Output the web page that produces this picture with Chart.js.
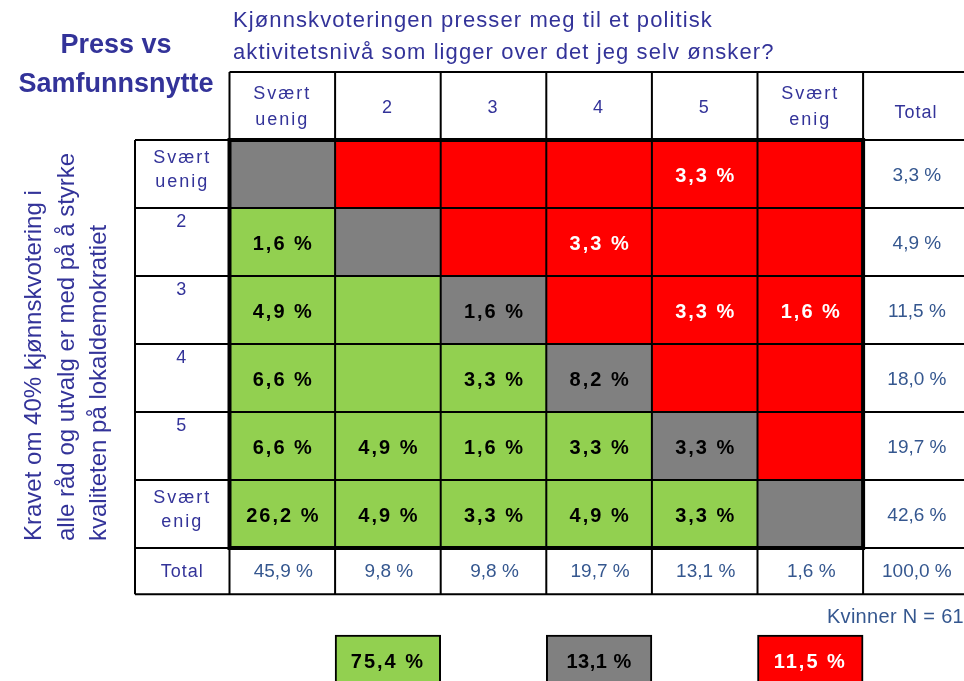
<!DOCTYPE html>
<html>
<head>
<meta charset="utf-8">
<script src="https://cdn.jsdelivr.net/npm/chart.js@4.4.1/dist/chart.umd.min.js"></script>
<style>
  html, body { margin: 0; padding: 0; background: #fff; overflow: hidden; }
  body { width: 964px; height: 681px; position: relative; font-family: "Liberation Sans", Arial, sans-serif; }
  #wrap { position: absolute; left: 0; top: 0; width: 972px; height: 681px; }
  .txt { position: absolute; white-space: nowrap; }
  #q { left: 233px; top: 4px; font-size: 22px; letter-spacing: 1.1px; line-height: 32px; color: #333399; }
  #ttl { left: 0; width: 232px; top: 25px; text-align: center; font-weight: bold; font-size: 27px; line-height: 39px; color: #333399; }
  #ytl { left: 17px; top: 541px; transform-origin: 0 0; transform: rotate(-90deg); text-align: left;
         font-size: 24px; line-height: 32.5px; color: #333399; }
  #note { right: 0px; top: 605px; font-size: 20px; letter-spacing: 0.3px; color: #35578f; }
</style>
</head>
<body>
<div id="wrap"><canvas id="c" width="972" height="681"></canvas></div>
<div class="txt" id="q">Kjønnskvoteringen presser meg til et politisk<br>aktivitetsnivå som ligger over det jeg selv ønsker?</div>
<div class="txt" id="ttl">Press vs<br>Samfunnsnytte</div>
<div class="txt" id="ytl">Kravet om 40% kjønnskvotering i<br>alle råd og utvalg er med på å styrke<br>kvaliteten på lokaldemokratiet</div>
<div class="txt" id="note">Kvinner N = 61</div>
<script>
var colLabels = ['Svært\nuenig', '2', '3', '4', '5', 'Svært\nenig', 'Total'];
var rowLabels = ['Svært\nuenig', '2', '3', '4', '5', 'Svært\nenig'];
// rows = "Kravet om 40%..." answer, cols = "Kjønnskvoteringen presser..." answer
var cellValues = [
  [null, null, null, null, 3.3, null],
  [1.6, null, null, 3.3, null, null],
  [4.9, null, 1.6, null, 3.3, 1.6],
  [6.6, null, 3.3, 8.2, null, null],
  [6.6, 4.9, 1.6, 3.3, 3.3, null],
  [26.2, 4.9, 3.3, 4.9, 3.3, null]
];
var rowTotals = [3.3, 4.9, 11.5, 18.0, 19.7, 42.6];
var colTotals = [45.9, 9.8, 9.8, 19.7, 13.1, 1.6, 100.0];
var summaryCols = [1, 3, 5];
var summaryValues = [75.4, 13.1, 11.5];

var GREEN = '#92d050', GREY = '#808080', RED = '#ff0000';
var BLUE = '#333399', STEEL = '#35578f';
var FONT = '"Liberation Sans", Arial, sans-serif';
var TOTAL_H = 0.68, SUM_TOP = 7.28;

function fmt(v) { return v.toFixed(1).replace('.', ',') + ' %'; }
function cellColor(r, c) {
  if (c > 5) return '#ffffff';
  return c < r ? GREEN : c === r ? GREY : RED;
}

var datasets = [];
rowLabels.forEach(function(lbl, r) {
  datasets.push({
    data: colLabels.map(function() { return [r, r + 1]; }),
    backgroundColor: colLabels.map(function(l, c) { return cellColor(r, c); }),
    borderWidth: 0
  });
});
datasets.push({
  data: colLabels.map(function() { return [6, 6 + TOTAL_H]; }),
  backgroundColor: '#ffffff', borderWidth: 0
});
datasets.push({
  data: colLabels.map(function(l, c) {
    return summaryCols.indexOf(c) >= 0 ? [SUM_TOP, 8.6] : null;
  }),
  backgroundColor: colLabels.map(function(l, c) { return c === 1 ? GREEN : c === 3 ? GREY : RED; }),
  borderColor: '#000', borderWidth: 2, borderSkipped: false
});

function txt(ctx, s, x, y, font, color, spacing) {
  ctx.font = font;
  ctx.fillStyle = color;
  ctx.letterSpacing = spacing || '0px';
  ctx.textAlign = 'center';
  ctx.textBaseline = 'middle';
  ctx.fillText(s, x, y);
}

var tablePlugin = {
  id: 'table',
  afterDatasetsDraw: function(chart) {
    var ctx = chart.ctx, xs = chart.scales.x, ys = chart.scales.y;
    var half = (xs.getPixelForValue(1) - xs.getPixelForValue(0)) / 2;
    var bx = [];
    for (var i = 0; i <= colLabels.length; i++) bx.push(xs.getPixelForValue(i) - half);
    var left = 135, right = bx[bx.length - 1];
    var yHead = ys.getPixelForValue(-1), yBot = ys.getPixelForValue(6 + TOTAL_H);
    ctx.save();
    ctx.strokeStyle = '#000';
    ctx.lineWidth = 2;
    ctx.beginPath();
    for (i = 0; i < bx.length - 1; i++) { ctx.moveTo(bx[i], yHead); ctx.lineTo(bx[i], yBot); }
    ctx.moveTo(left, ys.getPixelForValue(0)); ctx.lineTo(left, yBot);
    ctx.moveTo(bx[0], yHead); ctx.lineTo(right, yHead);
    for (var r = 0; r <= 6; r++) {
      var yy = ys.getPixelForValue(r);
      ctx.moveTo(left, yy); ctx.lineTo(right, yy);
    }
    ctx.moveTo(left, yBot); ctx.lineTo(right, yBot);
    ctx.stroke();
    ctx.lineWidth = 4;
    ctx.strokeRect(bx[0], ys.getPixelForValue(0), bx[6] - bx[0], ys.getPixelForValue(6) - ys.getPixelForValue(0));

    // header labels
    var yh = (yHead + ys.getPixelForValue(0)) / 2;
    colLabels.forEach(function(l, c) {
      var parts = l.split('\n'), cx = xs.getPixelForValue(c);
      if (parts.length === 2) {
        txt(ctx, parts[0], cx, yh - 12, '18px ' + FONT, BLUE, '2px');
        txt(ctx, parts[1], cx, yh + 14, '18px ' + FONT, BLUE, '2px');
      } else {
        txt(ctx, l, cx, yh + (c === 6 ? 7 : 2), '18px ' + FONT, BLUE, c === 6 ? '1px' : '2px');
      }
    });
    // row labels, cells, totals
    var lx = (left + bx[0]) / 2;
    rowLabels.forEach(function(l, r) {
      var top = ys.getPixelForValue(r), mid = ys.getPixelForValue(r + 0.5);
      var parts = l.split('\n');
      if (parts.length === 2) {
        txt(ctx, parts[0], lx, mid - 16, '18px ' + FONT, BLUE, '2px');
        txt(ctx, parts[1], lx, mid + 8, '18px ' + FONT, BLUE, '2px');
      } else {
        txt(ctx, l, lx, top + 14, '18px ' + FONT, BLUE, '2px');
      }
      cellValues[r].forEach(function(v, c) {
        if (v === null) return;
        txt(ctx, fmt(v), xs.getPixelForValue(c) + 1, mid + 2, 'bold 20px ' + FONT,
            cellColor(r, c) === RED ? '#fff' : '#000', '2px');
      });
      txt(ctx, fmt(rowTotals[r]), xs.getPixelForValue(6) + 1, mid + 2, '19px ' + FONT, STEEL, '0px');
    });
    var ty = ys.getPixelForValue(6 + TOTAL_H / 2) + 1;
    txt(ctx, 'Total', lx, ty, '18px ' + FONT, BLUE, '1px');
    colTotals.forEach(function(v, c) {
      txt(ctx, fmt(v), xs.getPixelForValue(c) + 1, ty, '19px ' + FONT, STEEL, '0px');
    });
    // summary boxes
    summaryCols.forEach(function(c, i) {
      txt(ctx, fmt(summaryValues[i]), xs.getPixelForValue(c), 662, 'bold 20px ' + FONT,
          c === 5 ? '#fff' : '#000', c === 3 ? '0.5px' : '2px');
    });
    ctx.restore();
  }
};

new Chart(document.getElementById('c'), {
  type: 'bar',
  data: { labels: colLabels, datasets: datasets },
  options: {
    responsive: false,
    animation: false,
    events: [],
    layout: { padding: { left: 229.5, right: 3.3, top: 72, bottom: 0 } },
    datasets: { bar: { grouped: false, barPercentage: 1, categoryPercentage: 1 } },
    plugins: { legend: { display: false }, tooltip: { enabled: false } },
    scales: {
      x: { display: false, offset: true },
      y: { display: false, reverse: true, min: -1, max: 7.956 }
    }
  },
  plugins: [tablePlugin]
});
</script>
</body>
</html>
